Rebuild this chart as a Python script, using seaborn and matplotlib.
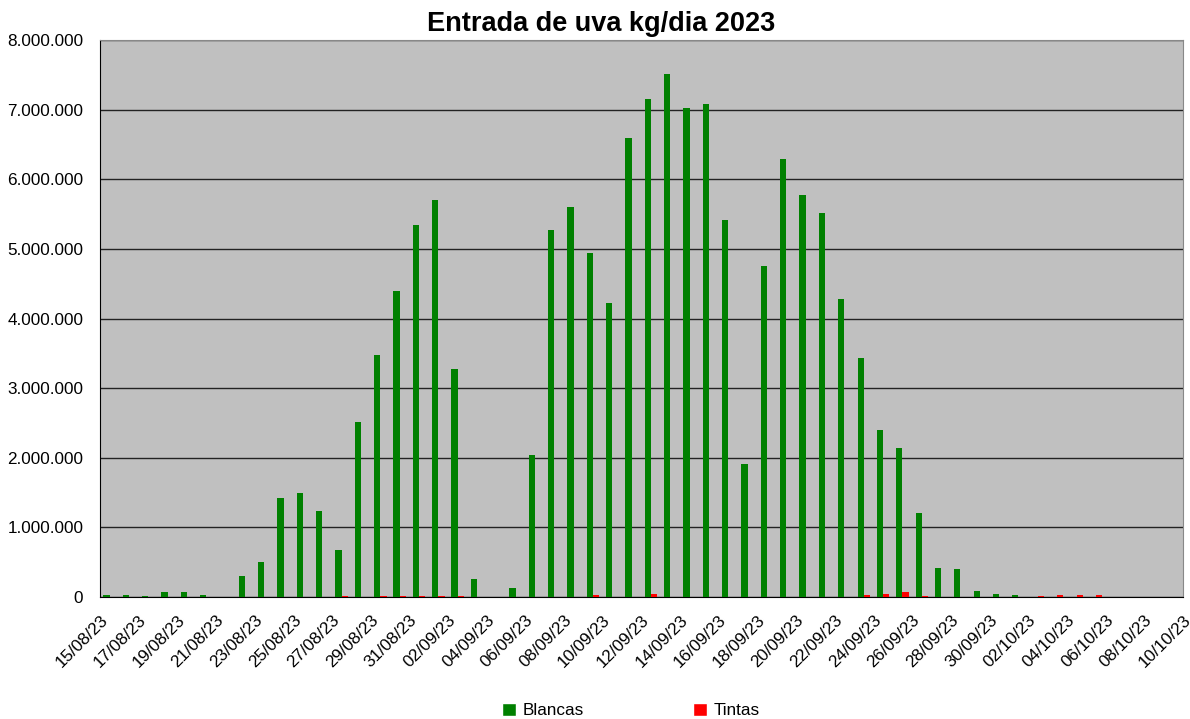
import matplotlib
matplotlib.use("Agg")
import matplotlib.pyplot as plt
from matplotlib.ticker import FuncFormatter, MultipleLocator
from matplotlib.patches import Patch
import seaborn as sns
import pandas as pd

# kg de uva por dia (15/08/23 .. 09/10/23)
dias = pd.date_range("2023-08-15", "2023-10-09").strftime("%d/%m/%y").tolist()
blancas = [24000, 24000, 14000, 67000, 67000, 24000, 0, 297000, 498000, 1418000,
           1490000, 1230000, 670000, 2510000, 3470000, 4390000, 5340000, 5710000, 3280000, 254000,
           0, 125000, 2040000, 5270000, 5600000, 4940000, 4220000, 6600000, 7150000, 7520000,
           7030000, 7080000, 5410000, 1910000, 4750000, 6300000, 5780000, 5510000, 4280000, 3430000,
           2400000, 2140000, 1200000, 410000, 400000, 82000, 39000, 24000, 0, 0,
           0, 0, 0, 0, 0, 0]
tintas = [0, 0, 0, 0, 0, 0, 0, 0, 0, 0,
          0, 0, 12000, 0, 12000, 12000, 14000, 12000, 12000, 0,
          0, 0, 0, 0, 0, 24000, 0, 0, 38000, 0,
          0, 0, 0, 0, 0, 0, 0, 0, 0, 24000,
          38000, 67000, 10000, 0, 0, 0, 0, 0, 10000, 24000,
          24000, 24000, 0, 0, 0, 0]
# etiquetas del eje x cada 2 dias (15/08/23 .. 10/10/23)
etiquetas = pd.date_range("2023-08-15", "2023-10-10", freq="2D").strftime("%d/%m/%y").tolist()

df = pd.concat([
    pd.DataFrame({"dia": dias, "tipo": "Blancas", "kg": blancas}),
    pd.DataFrame({"dia": dias, "tipo": "Tintas", "kg": tintas}),
])
colores = {"Blancas": "#008000", "Tintas": "#ff0000"}

sns.set_style("white")
plt.rcParams["font.family"] = ["Liberation Sans", "DejaVu Sans"]
plt.rcParams["text.color"] = "black"

fig = plt.figure(figsize=(11.9, 7.19), dpi=100)
ax = fig.add_axes([0.084, 0.170, 0.910, 0.774])
ax.set_facecolor("#c0c0c0")

sns.barplot(data=df, x="dia", y="kg", hue="tipo", order=dias,
            hue_order=["Blancas", "Tintas"], palette=colores, width=0.65,
            saturation=1, errorbar=None, ax=ax, legend=False, zorder=3,
            linewidth=0, edgecolor="none")

ax.set_xlim(-0.5, len(dias) - 0.5)
ax.set_ylim(0, 8000000)
ax.yaxis.set_major_locator(MultipleLocator(1000000))
ax.yaxis.set_major_formatter(FuncFormatter(lambda v, p: f"{int(v):,}".replace(",", ".")))
ax.set_xticks([i - 0.5 for i in range(0, len(etiquetas) * 2, 2)])
ax.set_xticklabels(etiquetas, rotation=45, ha="right", rotation_mode="anchor")
ax.tick_params(axis="both", labelsize=12.3, direction="out", length=5, width=1,
               color="#555555", labelcolor="black")
ax.tick_params(axis="y", pad=7)
ax.tick_params(axis="x", pad=6)
ax.grid(axis="y", color="#222222", linewidth=1, zorder=1)
ax.set_axisbelow(True)
ax.set_xlabel("")
ax.set_ylabel("")
for s in ["top", "right"]:
    ax.spines[s].set_color("#888888")
for s in ["left", "bottom"]:
    ax.spines[s].set_color("black")

fig.text(0.505, 1 - 24 / 719, "Entrada de uva kg/dia 2023", fontsize=19.5,
         fontweight="bold", ha="center", va="center", color="black")

handles = [Patch(facecolor=colores[k], label=k) for k in ["Blancas", "Tintas"]]
fig.legend(handles=handles, loc="lower center", bbox_to_anchor=(0.530, -0.020), ncol=2,
           frameon=False, fontsize=12.3, handlelength=0.8, handleheight=0.8,
           handletextpad=0.4, columnspacing=6.4, labelcolor="black")

fig.savefig("out.png", dpi=100)
